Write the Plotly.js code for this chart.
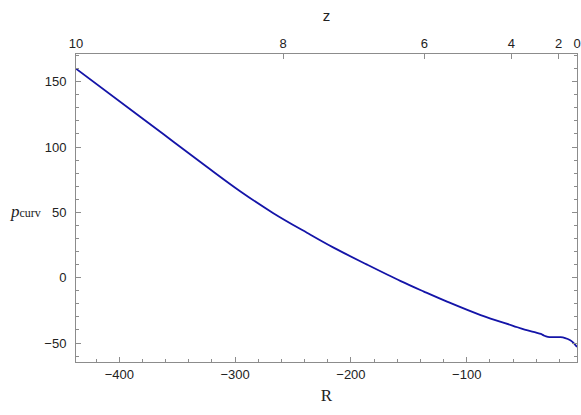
<!DOCTYPE html>
<html>
<head>
<meta charset="utf-8">
<script src="https://cdn.plot.ly/plotly-3.0.1.min.js"></script>
<style>
  html, body { margin: 0; padding: 0; background: #fff; }
  #chart { width: 581px; height: 415px; }
</style>
</head>
<body>
<div id="chart"></div>
<script>
// curve: R on the bottom axis, p_curv on the left
const rValues = [-437.4, -382, -353, -324.5, -296, -267, -238, -215, -186, -157,
                 -137, -117, -88, -60, -50, -40, -36, -33, -30, -26, -19, -15, -11, -8, -4.8];
const pValues = [160, 123.2, 103.9, 84.9, 66.4, 49.4, 34.4, 23.0, 10.0, -2.6,
                 -10.6, -18.3, -28.6, -36.8, -39.7, -42.0, -43.0, -44.4, -45.2, -45.5, -45.5, -46.2, -47.6, -49.6, -53];

// top axis: redshift z labels and the R where each one sits
const zLabels = ['10', '8', '6', '4', '2', '0'];
const zAtR = [-437.4, -258.5, -136.7, -61.5, -20.6, -4.8];

const xRange = [-437.4, -4.8];
const yRange = [-64.5, 171.2];

const frameColor = '#8c8c8c';
const tickFont = { family: 'Liberation Sans, Arial, sans-serif', size: 13, color: '#222' };

const trace = {
    x: rValues,
    y: pValues,
    mode: 'lines',
    line: { color: '#1414a8', width: 1.8, shape: 'spline', smoothing: 1 },
    hoverinfo: 'skip',
    showlegend: false
};

// invisible trace so the top axis exists
const topTrace = {
    x: xRange,
    y: yRange,
    xaxis: 'x2',
    mode: 'markers',
    marker: { opacity: 0 },
    hoverinfo: 'skip',
    showlegend: false
};

const layout = {
    width: 581,
    height: 415,
    margin: { l: 76, r: 4, t: 54, b: 53 },
    paper_bgcolor: '#fff',
    plot_bgcolor: '#fff',
    xaxis: {
        range: xRange,
        showgrid: false,
        zeroline: false,
        showline: true,
        linecolor: frameColor,
        linewidth: 1,
        ticks: 'inside',
        ticklen: 5,
        tickcolor: frameColor,
        dtick: 100,
        tick0: 0,
        tickfont: tickFont,
        minor: { dtick: 20, tick0: 0, ticks: 'inside', ticklen: 3, tickcolor: frameColor },
        title: { text: 'R', font: { family: 'Liberation Serif, Times New Roman, serif', size: 17, color: '#222' }, standoff: 8 }
    },
    xaxis2: {
        range: xRange,
        overlaying: 'x',
        side: 'top',
        anchor: 'y',
        showgrid: false,
        zeroline: false,
        showline: true,
        linecolor: frameColor,
        linewidth: 1,
        ticks: 'inside',
        ticklen: 5,
        tickcolor: frameColor,
        tickmode: 'array',
        tickvals: zAtR,
        ticktext: zLabels,
        tickfont: tickFont,
        title: { text: 'z', font: { family: 'Liberation Sans, Arial, sans-serif', size: 15, color: '#222' }, standoff: 10 }
    },
    yaxis: {
        range: yRange,
        showgrid: false,
        zeroline: false,
        showline: true,
        mirror: 'ticks',
        linecolor: frameColor,
        linewidth: 1,
        ticks: 'inside',
        ticklen: 5,
        tickcolor: frameColor,
        dtick: 50,
        tick0: 0,
        tickfont: tickFont,
        ticklabelstandoff: 6,
        minor: { dtick: 10, tick0: 0, ticks: 'inside', ticklen: 3, tickcolor: frameColor }
    },
    annotations: [{
        text: '<i>p</i><span style="font-size:12px">curv</span>',
        xref: 'paper', yref: 'paper',
        x: -0.1, y: 0.4875,
        xanchor: 'center', yanchor: 'middle',
        showarrow: false,
        font: { family: 'Liberation Serif, Times New Roman, serif', size: 17, color: '#222' }
    }]
};

Plotly.newPlot('chart', [trace, topTrace], layout, { staticPlot: true, displayModeBar: false });
</script>
</body>
</html>
